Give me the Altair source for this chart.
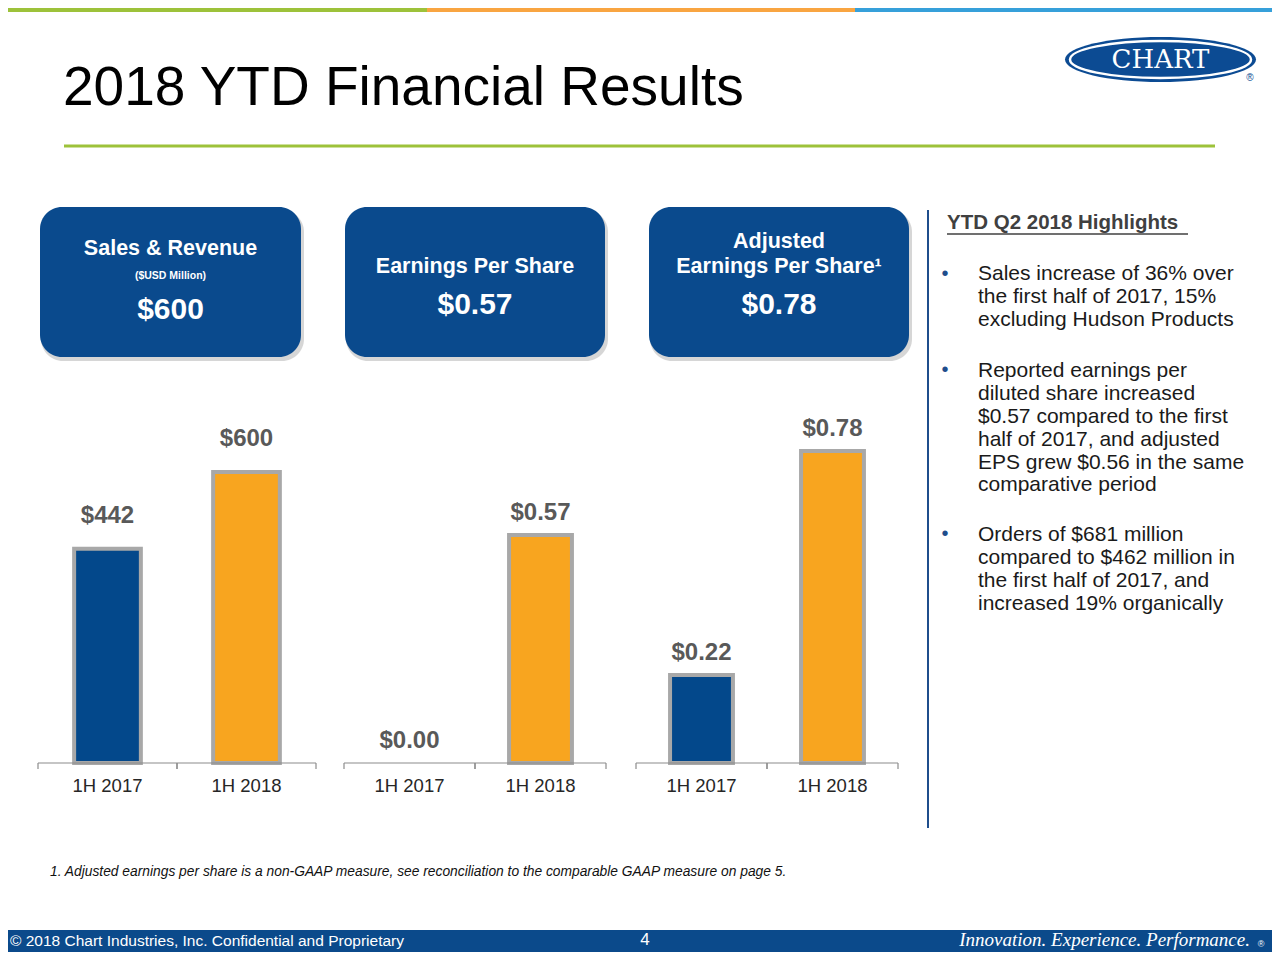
import altair as alt
import pandas as pd

# ---------------- data ----------------
periods = ["1H 2017", "1H 2018"]
sales_revenue = [442, 600]          # $USD million
eps_reported = [0.00, 0.57]         # $ per share
eps_adjusted = [0.22, 0.78]         # $ per share
period_colors = ["#03488B", "#F8A51F"]

title_text = "2018 YTD Financial Results"
box1_lines = ["Sales & Revenue", "($USD Million)", "$600"]
box2_lines = ["Earnings Per Share", "$0.57"]
box3_lines = ["Adjusted", "Earnings Per Share\u00b9", "$0.78"]
highlights_title = "YTD Q2 2018 Highlights"
bullets = [
    ["Sales increase of 36% over", "the first half of 2017, 15%", "excluding Hudson Products"],
    ["Reported earnings per", "diluted share increased", "$0.57 compared to the first",
     "half of 2017, and adjusted", "EPS grew $0.56 in the same", "comparative period"],
    ["Orders of $681 million", "compared to $462 million in", "the first half of 2017, and",
     "increased 19% organically"],
]
footnote = ("1. Adjusted earnings per share is a non-GAAP measure, see reconciliation "
            "to the comparable GAAP measure on page 5.")
footer_left = "\u00a9 2018 Chart Industries, Inc. Confidential and Proprietary"
footer_page = "4"
footer_right = "Innovation. Experience. Performance."
logo_word = "CHART"

# ---------------- helpers ----------------
OFF = 8            # page margin: chart origin sits at page (8, 8)
W, H = 1264, 944
SANS = "Liberation Sans, Arial, Helvetica, sans-serif"
SERIF = "Liberation Serif, Times New Roman, serif"


def V(p):
    return alt.value(p - OFF)


def blank():
    return alt.Data(values=[{}])


def text_layer(s, x, y, size, color="#000000", weight="normal", align="left",
               baseline="middle", font=SANS, style="normal", lh=None):
    mk = dict(fontSize=size, color=color, fontWeight=weight, align=align,
              baseline=baseline, font=font, fontStyle=style)
    if lh:
        mk.update(lineBreak="\n", lineHeight=lh)
    return alt.Chart(alt.Data(values=[{"t": s}])).mark_text(**mk).encode(
        text="t:N", x=V(x), y=V(y))


def rect_layer(x1, y1, x2, y2, color, radius=0, opacity=1.0):
    return alt.Chart(blank()).mark_rect(color=color, cornerRadius=radius, opacity=opacity).encode(
        x=V(x1), x2=V(x2), y=V(y1), y2=V(y2))


def rule_layer(x1, y1, x2, y2, color, width=1.0):
    return alt.Chart(blank()).mark_rule(color=color, strokeWidth=width).encode(
        x=V(x1), x2=V(x2), y=V(y1), y2=V(y2))


def ellipse(r):
    return f"M-1,0A1,{r},0,1,1,1,0A1,{r},0,1,1,-1,0Z"


layers = []

# top stripes
layers += [
    rect_layer(0, 0, 427, 12, "#9DC23A"),
    rect_layer(427, 0, 855, 12, "#F9A541"),
    rect_layer(855, 0, 1290, 12, "#36A0DA"),
]

# title + green rule
layers.append(text_layer(title_text, 63, 105, 55, color="#000000", baseline="alphabetic"))
layers.append(rule_layer(64, 146, 1215, 146, "#9DC23A", 3))

# logo
layers.append(alt.Chart(blank()).mark_point(shape=ellipse(0.236), size=191 ** 2, filled=True,
                                            color="#0C4B93", opacity=1).encode(x=V(1160.5), y=V(59.5)))
layers.append(alt.Chart(blank()).mark_point(shape=ellipse(0.205), size=181 ** 2, filled=False,
                                            color="#FFFFFF", strokeWidth=2.5, opacity=1).encode(x=V(1160.5), y=V(59.5)))
layers.append(text_layer(logo_word, 1160.5, 60, 26, color="#FFFFFF", align="center",
                         font="DejaVu Serif, Liberation Serif, serif"))
layers.append(text_layer("\u00ae", 1250, 78, 10, color="#0C4B93", align="center"))

# KPI boxes with soft shadow
BOX = "#0A4A8D"
for (x1, x2) in [(40, 301), (345, 605), (649, 909)]:
    layers.append(rect_layer(x1 + 1, 210, x2 + 3, 361, "#8A8A8A", radius=22, opacity=0.35))
    layers.append(rect_layer(x1, 207, x2, 357, BOX, radius=22))

cx1, cx2, cx3 = 170.5, 475, 779
layers += [
    text_layer(box1_lines[0], cx1, 249, 21.5, "#FFFFFF", "bold", "center"),
    text_layer(box1_lines[1], cx1, 276, 10.5, "#FFFFFF", "bold", "center"),
    text_layer(box1_lines[2], cx1, 310, 30, "#FFFFFF", "bold", "center"),
    text_layer(box2_lines[0], cx2, 267, 21.5, "#FFFFFF", "bold", "center"),
    text_layer(box2_lines[1], cx2, 305, 30, "#FFFFFF", "bold", "center"),
    text_layer(box3_lines[0], cx3, 242, 21.5, "#FFFFFF", "bold", "center"),
    text_layer(box3_lines[1], cx3, 267, 21.5, "#FFFFFF", "bold", "center"),
    text_layer(box3_lines[2], cx3, 305, 30, "#FFFFFF", "bold", "center"),
]

# divider
layers.append(rule_layer(928, 210, 928, 828, "#1F4E8C", 2))

# highlights
layers.append(text_layer(highlights_title, 947, 223, 20.5, "#404040", "bold"))
layers.append(rule_layer(947, 234, 1188, 234, "#404040", 1.5))
LH = 22.9
for lines, c in zip(bullets, [272.5, 369, 533]):
    layers.append(text_layer("\u2022", 945, c + 1, 20, "#1F4E8C", align="center"))
    # baseline "top": first line's cap centre ~ y + 0.43*fs
    layers.append(text_layer("\n".join(lines), 978, c - 0.43 * 21, 21, "#1A1A1A",
                             baseline="top", lh=LH))

# ---------------- bar panels ----------------
AXIS_Y = 763
panels = [
    dict(values=sales_revenue, xr=(38, 316), dom=[0, 600], top=AXIS_Y - 291, fmt="$.0f", dy=-33),
    dict(values=eps_reported, xr=(344, 606), dom=[0, 1], top=AXIS_Y - 400, fmt="$.2f", dy=-22),
    dict(values=eps_adjusted, xr=(636, 898), dom=[0, 1], top=AXIS_Y - 400, fmt="$.2f", dy=-22),
]
color_enc = alt.Color("period:N", scale=alt.Scale(domain=periods, range=period_colors), legend=None)

for p in panels:
    df = pd.DataFrame({"period": periods, "value": p["values"]})
    xs = alt.Scale(domain=periods, range=[p["xr"][0] - OFF, p["xr"][1] - OFF],
                   paddingInner=0, paddingOuter=0)
    ys = alt.Scale(domain=p["dom"], range=[AXIS_Y - OFF, p["top"] - OFF], nice=False, zero=True)
    X = alt.X("period:N", scale=xs, axis=None)
    Y = alt.Y("value:Q", scale=ys, axis=None)
    base = alt.Chart(df)
    layers.append(base.mark_bar(width=alt.RelativeBandSize(0.48), stroke="#A8A8A8",
                                strokeWidth=4).encode(
        x=X, y=Y, color=color_enc,
        strokeOpacity=alt.condition(alt.datum.value > 0, alt.value(1), alt.value(0))))
    layers.append(base.mark_text(dy=p["dy"], fontSize=24, fontWeight="bold", color="#595959",
                                 font=SANS, baseline="middle").encode(
        x=X, y=Y, text=alt.Text("value:Q", format=p["fmt"])))
    # axis domain + ticks + labels
    layers.append(rule_layer(p["xr"][0], AXIS_Y, p["xr"][1], AXIS_Y, "#8C8C8C", 1.2))
    for bp in (0, 1):
        layers.append(base.mark_rule(color="#8C8C8C", strokeWidth=1.2).encode(
            x=alt.X("period:N", scale=xs, axis=None, bandPosition=bp),
            y=V(AXIS_Y), y2=V(AXIS_Y + 6)))
    layers.append(base.mark_text(fontSize=18.5, color="#262626", font=SANS,
                                 baseline="middle").encode(x=X, y=V(786), text="period:N"))

# footnote
layers.append(text_layer(footnote, 50, 872, 13.8, "#111111", style="italic"))

# footer
layers.append(rect_layer(0, 930, 1290, 970, "#0B4A8B"))
layers.append(text_layer(footer_left, 10, 941, 15.5, "#FFFFFF",
                         font="Liberation Sans Narrow, Liberation Sans, Arial, sans-serif"))
layers.append(text_layer(footer_page, 645, 940, 17, "#FFFFFF", align="center"))
layers.append(text_layer(footer_right, 1250, 940, 19, "#FFFFFF", align="right",
                         font=SERIF, style="italic"))
layers.append(text_layer("\u00ae", 1261, 944, 9, "#FFFFFF", align="center"))

chart = alt.layer(*layers).resolve_scale(x="independent", y="independent").properties(
    width=W, height=H, padding=0, autosize="none", background="#FFFFFF"
).configure_view(stroke=None)

chart.save("out.html", embed_options={"renderer": "svg", "actions": False})
